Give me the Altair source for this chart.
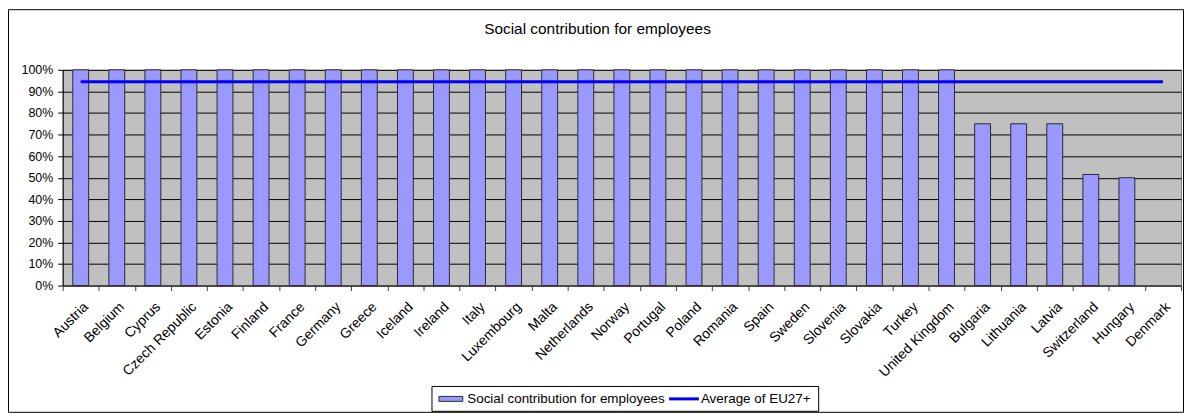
import altair as alt
import pandas as pd

countries = ["Austria", "Belgium", "Cyprus", "Czech Republic", "Estonia", "Finland",
             "France", "Germany", "Greece", "Iceland", "Ireland", "Italy", "Luxembourg",
             "Malta", "Netherlands", "Norway", "Portugal", "Poland", "Romania", "Spain",
             "Sweden", "Slovenia", "Slovakia", "Turkey", "United Kingdom", "Bulgaria",
             "Lithuania", "Latvia", "Switzerland", "Hungary", "Denmark"]
values = [1.0] * 25 + [0.75, 0.75, 0.75, 0.515, 0.50, 0.0]
average = 0.945
y_ticks = [0.0, 0.1, 0.2, 0.3, 0.4, 0.5, 0.6, 0.7, 0.8, 0.9, 1.0]

series_bar = "Social contribution for employees"
series_line = "Average of EU27+"
title_text = "Social contribution for employees"

FONT = "Liberation Sans"
W, H = 1125, 217

df = pd.DataFrame({"country": countries, "value": values,
                   "avg": [average] * len(countries)})

x_axis = alt.Axis(title=None, labelAngle=-45, labelAlign="right",
                  labelBaseline="top", labelFontSize=14, labelFont=FONT,
                  labelColor="black", labelPadding=9,
                  tickBand="extent", tickSize=5, tickColor="#404040",
                  domainColor="#404040", labelOverlap=False)
y_axis = alt.Axis(title=None, format=".0%", values=y_ticks,
                  labelFontSize=12.5, labelFont=FONT, labelColor="black",
                  labelPadding=5, tickSize=5, tickColor="black",
                  labelOverlap=False,
                  domainColor="black", gridColor="black", gridWidth=1,
                  gridOpacity=1)
x_scale = alt.Scale(paddingInner=0, paddingOuter=0)
y_scale = alt.Scale(domain=[0, 1], nice=False)

bars = alt.Chart(df).mark_bar(
    width=alt.RelativeBandSize(0.44), color="#9999FF",
    stroke="#2b2b2b", strokeWidth=1
).encode(
    x=alt.X("country:N", sort=countries, scale=x_scale, axis=x_axis),
    y=alt.Y("value:Q", scale=y_scale, axis=y_axis),
    strokeOpacity=alt.condition(alt.datum.value > 0, alt.value(1), alt.value(0)),
)

line = alt.Chart(df).mark_line(color="#0000FF", strokeWidth=3).encode(
    x=alt.X("country:N", sort=countries, scale=x_scale, axis=x_axis),
    y=alt.Y("avg:Q", scale=y_scale, axis=y_axis),
)

# title as text
title = alt.Chart(pd.DataFrame({"t": [title_text]})).mark_text(
    font=FONT, fontSize=15.5, color="black", align="center", baseline="middle"
).encode(text="t:N", x=alt.value(538), y=alt.value(-41))

# custom legend
legend_box = alt.Chart(pd.DataFrame({"k": [0]})).mark_rect(
    fill="white", stroke="black", strokeWidth=1
).encode(x=alt.value(371.5), x2=alt.value(760.5), y=alt.value(318.5), y2=alt.value(343.5))

legend_sym = alt.Chart(pd.DataFrame({"k": [0]})).mark_rect(
    fill="#9999FF", stroke="#2b2b2b", strokeWidth=1
).encode(x=alt.value(378.5), x2=alt.value(402.5), y=alt.value(328.5), y2=alt.value(333.5))

legend_rule = alt.Chart(pd.DataFrame({"k": [0]})).mark_rule(
    color="#0000FF", strokeWidth=3
).encode(x=alt.value(610), x2=alt.value(640), y=alt.value(331))

legend_txt = alt.Chart(pd.DataFrame({"t": [series_bar, series_line], "px": [407, 642]})).mark_text(
    font=FONT, fontSize=13.5, color="black", align="left", baseline="middle"
).encode(text="t:N", x=alt.X("px:Q", scale=None), y=alt.value(331))

frame = alt.Chart(pd.DataFrame({"k": [0]})).mark_rect(
    fill=None, stroke="black", strokeWidth=1
).encode(x=alt.value(-54.5), x2=alt.value(1127.5), y=alt.value(-60.5), y2=alt.value(344.5))

chart = alt.layer(bars, line, title, legend_box, legend_sym, legend_rule, legend_txt, frame).properties(
    width=W, height=H,
    padding={"left": 55, "top": 61, "right": 3, "bottom": 128},
    autosize=alt.AutoSizeParams(type="none"),
    background="white",
).configure_view(
    fill="#C0C0C0", stroke="#808080", strokeWidth=1
)

chart.save("out.html", embed_options={"renderer": "svg", "actions": False})
